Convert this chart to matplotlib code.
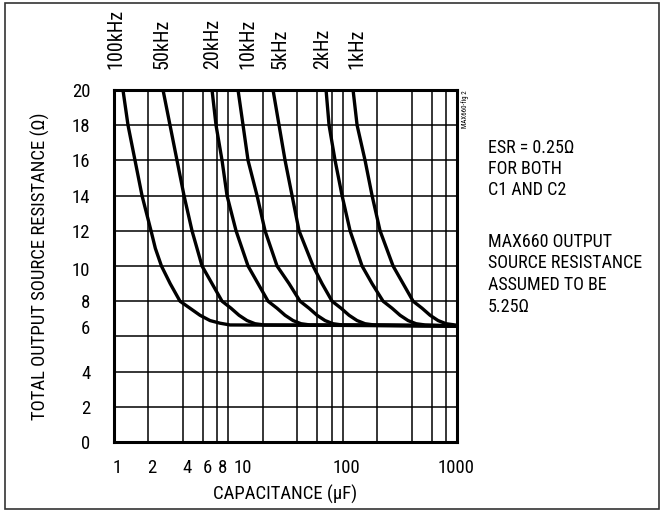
import matplotlib
matplotlib.use("Agg")
import matplotlib.pyplot as plt
import matplotlib.transforms as mtransforms
from matplotlib.patches import Rectangle
from matplotlib import font_manager

# ---- data ----
freq_labels = ["100kHz", "50kHz", "20kHz", "10kHz", "5kHz", "2kHz", "1kHz"]
freq_label_x = [1.03, 2.63, 7.25, 14.9, 28.3, 67.4, 133.6]

c_100k = [1.198, 1.326, 1.527, 1.758, 2.108, 2.30, 2.60, 3.10, 3.779, 4.623, 5.654, 6.917, 8.46, 10.35, 1000]
r_100k = [20, 18, 16, 14, 12, 11, 10, 9.0, 8, 7.6, 7.2, 6.9, 6.75, 6.65, 6.6]
c_50k = [2.684, 3.090, 3.557, 4.097, 4.813, 5.888, 7.201, 8.810, 10.56, 12.41, 14.58, 17.12, 20.53, 1000]
r_50k = [20, 18, 16, 14, 12, 10, 9, 8, 7.6, 7.2, 6.9, 6.72, 6.65, 6.6]
c_20k = [7.201, 7.805, 8.810, 9.741, 11.68, 14.87, 18.19, 22.25, 26.68, 31.35, 36.82, 43.25, 51.84, 1000]
r_20k = [20, 18, 16, 14, 12, 10, 9, 8, 7.6, 7.2, 6.9, 6.72, 6.65, 6.6]
c_10k = [12.16, 13.45, 14.87, 17.83, 20.95, 26.68, 33.97, 42.40, 50.82, 59.70, 70.15, 82.41, 98.81, 1000]
r_10k = [20, 18, 16, 14, 12, 10, 9, 8, 7.6, 7.2, 6.9, 6.72, 6.65, 6.6]
c_5k = [24.61, 27.77, 31.35, 36.09, 41.55, 55.08, 66.03, 80.78, 96.83, 113.8, 133.7, 157.0, 188.3, 1000]
r_5k = [20, 18, 16, 14, 12, 10, 9, 8, 7.6, 7.2, 6.9, 6.72, 6.65, 6.6]
c_2k = [71.58, 76.03, 85.82, 98.81, 116.1, 147.8, 180.8, 225.7, 270.5, 317.8, 373.4, 438.7, 525.9, 1000]
r_2k = [20, 18, 16, 14, 12, 10, 9, 8, 7.6, 7.2, 6.9, 6.72, 6.65, 6.6]
c_1k = [123.3, 133.7, 157.0, 180.8, 212.4, 276.0, 337.6, 413.0, 495.1, 581.8, 683.5, 802.9, 962.4, 1000]
r_1k = [20, 18, 16, 14, 12, 10, 9, 8, 7.6, 7.2, 6.9, 6.72, 6.65, 6.62]

x_grid = [1, 2, 4, 6, 8, 10, 20, 40, 60, 80, 100, 200, 400, 600, 800, 1000]
x_tick_vals = [1, 2, 4, 6, 8, 10, 100, 1000]
x_tick_labels = ["1", "2", "4", "6", "8", "10", "100", "1000"]
y_ticks = [0, 2, 4, 6, 8, 10, 12, 14, 16, 18, 20]

note1 = ["ESR = 0.25\u03A9", "FOR BOTH", "C1 AND C2"]
note2 = ["MAX660 OUTPUT", "SOURCE RESISTANCE", "ASSUMED TO BE", "5.25\u03A9"]

# ---- font: prefer a narrow / condensed sans ----
entries = font_manager.fontManager.ttflist
def has(name, stretch=None):
    for f in entries:
        if f.name == name and (stretch is None or str(f.stretch) == stretch):
            return True
    return False

fam, stretch, scale = "DejaVu Sans", "normal", 0.9
for name, st in [("Liberation Sans Narrow", None), ("Roboto Condensed", None),
                 ("DejaVu Sans", "condensed"), ("Noto Sans", "condensed"),
                 ("Open Sans", "condensed")]:
    if has(name, st):
        fam = name
        stretch = st if st else "normal"
        scale = 1.0
        break
plt.rcParams["font.family"] = [fam, "DejaVu Sans"]
plt.rcParams["font.stretch"] = stretch

fs_tick = 13.5 * scale
fs_freq = 14.5 * scale
fs_lab = 13.5 * scale
fs_note = 13 * scale

fig = plt.figure(figsize=(6.63, 5.11), dpi=100)
ax = fig.add_axes([114 / 663, 1 - 442 / 511, 343 / 663, 352 / 511])
ax.set_xscale("log")
ax.set_xlim(1, 1000)
ax.set_ylim(0, 20)

for xv in x_grid:
    ax.axvline(xv, color="black", lw=1.1, zorder=1)
for yv in y_ticks:
    ax.axhline(yv, color="black", lw=1.1, zorder=1)

curves = [(c_100k, r_100k), (c_50k, r_50k), (c_20k, r_20k), (c_10k, r_10k),
          (c_5k, r_5k), (c_2k, r_2k), (c_1k, r_1k)]
for c, r in curves:
    ax.plot(c, r, color="black", lw=2.4, solid_joinstyle="round",
            solid_capstyle="round", zorder=3)

ax.set_xticks(x_tick_vals)
ax.set_xticklabels(x_tick_labels)
ax.xaxis.set_minor_locator(matplotlib.ticker.NullLocator())
ax.set_yticks(y_ticks)
ax.tick_params(axis="both", length=0, labelsize=fs_tick)
ax.tick_params(axis="x", pad=12)
ax.tick_params(axis="y", pad=17)
for s in ax.spines.values():
    s.set_linewidth(2.2)
    s.set_zorder(4)

# small hand-placement offsets of tick labels (pixels) as in the reference
x_shift = [3, 3.6, 4, 4, 5, 14, 4, -1]
for lab, dx in zip(ax.get_xticklabels(), x_shift):
    lab.set_transform(lab.get_transform() +
                      mtransforms.ScaledTranslation(dx / 100, 0, fig.dpi_scale_trans))
y_shift = [0, 0, 0, 9, 0, -3, 0, 0, 0, 0, 0]
for lab, dy in zip(ax.get_yticklabels(), y_shift):
    lab.set_transform(lab.get_transform() +
                      mtransforms.ScaledTranslation(0, dy / 100, fig.dpi_scale_trans))

ax.set_xlabel("CAPACITANCE (\u00b5F)", fontsize=fs_lab, labelpad=6)
ax.set_ylabel("TOTAL OUTPUT SOURCE RESISTANCE (\u03A9)", fontsize=fs_lab, labelpad=16)

for lab, xv in zip(freq_labels, freq_label_x):
    ax.text(xv, 1.06, lab, transform=ax.get_xaxis_transform(), rotation=90,
            ha="center", va="bottom", fontsize=fs_freq)

ax.text(1.025, 1.0, "MAX660-fig 2", transform=ax.transAxes, rotation=90,
        ha="center", va="top", fontsize=5)

y0 = 1 - 148 / 511
for i, t in enumerate(note1):
    fig.text(488 / 663, y0 - i * 21 / 511, t, ha="left", va="center", fontsize=fs_note)
y1 = 1 - 242 / 511
for i, t in enumerate(note2):
    fig.text(488 / 663, y1 - i * 21.5 / 511, t, ha="left", va="center", fontsize=fs_note)

fig.patches.append(Rectangle((5 / 663, 2 / 511), 654 / 663, 506 / 511,
                             transform=fig.transFigure, fill=False,
                             edgecolor="#333333", lw=1.2))

fig.savefig("out.png", dpi=100)
